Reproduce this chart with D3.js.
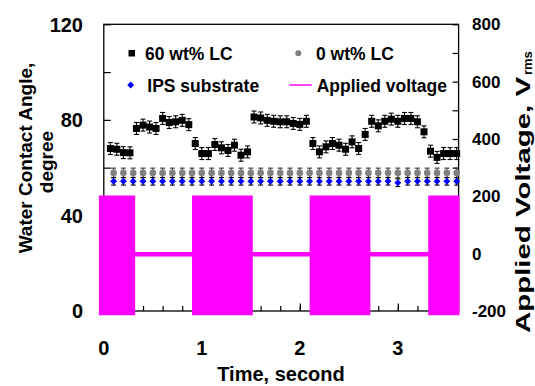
<!DOCTYPE html>
<html>
<head>
<meta charset="utf-8">
<script src="https://cdn.jsdelivr.net/npm/d3@7"></script>
<style>
  body { margin: 0; background: #fff; }
  text { font-family: "Liberation Sans", Arial, sans-serif; font-weight: bold; fill: #000; }
</style>
</head>
<body>
<svg id="chart" width="535" height="386"></svg>
<script>
// 60 wt% LC, sampled every 1/15 s
const lcTime = [0.067, 0.133, 0.2, 0.267, 0.333, 0.4, 0.467, 0.533, 0.6, 0.667,
  0.733, 0.8, 0.867, 0.933, 1.0, 1.067, 1.133, 1.2, 1.267, 1.333,
  1.4, 1.467, 1.533, 1.6, 1.667, 1.733, 1.8, 1.867, 1.933, 2.0,
  2.067, 2.133, 2.2, 2.267, 2.333, 2.4, 2.467, 2.533, 2.6, 2.667,
  2.733, 2.8, 2.867, 2.933, 3.0, 3.067, 3.133, 3.2, 3.267, 3.333,
  3.4, 3.467, 3.533, 3.6];
const lcAngle = [68.0, 67.7, 66.3, 66.2, 76.4, 77.8, 77.0, 76.4, 80.6, 78.9,
  79.2, 79.8, 78.0, 70.1, 65.9, 65.9, 69.7, 68.3, 67.2, 69.4,
  65.2, 66.6, 81.2, 80.8, 79.8, 79.4, 79.2, 79.2, 78.5, 78.1,
  79.4, 70.1, 66.6, 68.7, 70.1, 69.4, 67.7, 70.8, 68.0, 73.9,
  79.4, 77.5, 79.4, 80.3, 79.4, 80.6, 80.6, 79.2, 75.0, 66.9,
  64.3, 65.9, 65.9, 65.9];
const lcErr = 2.5;

// 0 wt% LC and bare IPS substrate, every 0.1 s
const refTime = [0.1, 0.2, 0.3, 0.4, 0.5, 0.6, 0.7, 0.8, 0.9, 1.0,
  1.1, 1.2, 1.3, 1.4, 1.5, 1.6, 1.7, 1.8, 1.9, 2.0,
  2.1, 2.2, 2.3, 2.4, 2.5, 2.6, 2.7, 2.8, 2.9, 3.0,
  3.1, 3.2, 3.3, 3.4, 3.5, 3.6];
const lc0Angle = [57.8, 57.8, 57.8, 57.8, 57.8, 57.8, 57.8, 57.8, 57.8, 57.8,
  57.8, 57.8, 57.8, 57.8, 57.8, 57.8, 57.8, 57.8, 57.8, 57.8,
  57.8, 57.8, 57.8, 57.8, 57.8, 57.8, 57.8, 57.8, 57.8, 57.8,
  57.8, 57.8, 57.8, 57.8, 57.8, 57.8];
const lc0Err = 2.0;
const ipsAngle = [54.3, 54.3, 54.3, 54.3, 54.3, 54.3, 54.3, 54.3, 54.3, 54.3,
  54.3, 54.3, 54.3, 54.3, 54.3, 54.3, 54.3, 54.3, 54.3, 54.3,
  54.3, 54.3, 54.3, 54.3, 54.3, 54.3, 54.3, 54.3, 54.3, 53.7,
  54.3, 54.3, 54.3, 54.3, 54.3, 54.3];
const ipsErr = 1.6;

// applied voltage envelope (AC on / off segments)
const voltEdge = [-0.05, 0.32, 0.90, 1.52, 2.10, 2.72, 3.31, 3.63];
const voltMax = [203, 6, 203, 6, 203, 6, 203];
const voltMin = [-215, -10, -215, -10, -215, -10, -215];

const leftTicks = [0, 40, 80, 120];
const rightTicks = [-200, 0, 200, 400, 600, 800];
const timeTicks = [0, 1, 2, 3];

const svg = d3.select('#chart');
const plotLeft = 103.8, plotRight = 458.6, plotTop = 24.3, plotBottom = 311;

const x = d3.scaleLinear().domain([0, 3.62]).range([plotLeft, plotRight]);
const yL = d3.scaleLinear().domain([0, 120]).range([plotBottom, plotTop]);
const yR = d3.scaleLinear().domain([-200, 800]).range([plotBottom, plotTop]);

// frame
svg.append('rect')
  .attr('x', plotLeft).attr('y', plotTop)
  .attr('width', plotRight - plotLeft).attr('height', plotBottom - plotTop)
  .attr('fill', 'none').attr('stroke', '#000').attr('stroke-width', 1.3);

// inward ticks
const axL = d3.axisRight(yL).tickValues(d3.range(0, 121, 20)).tickSize(7).tickFormat('');
svg.append('g').attr('transform', `translate(${plotLeft},0)`).call(axL);
const axR = d3.axisLeft(yR).tickValues(d3.range(-200, 801, 100)).tickSize(6).tickFormat('');
svg.append('g').attr('transform', `translate(${plotRight},0)`).call(axR);
const axBminor = d3.axisTop(x).tickValues(d3.range(0.2, 3.61, 0.2)).tickSize(5).tickFormat('');
svg.append('g').attr('transform', `translate(0,${plotBottom})`).call(axBminor);
const axBmajor = d3.axisTop(x).tickValues([1, 2, 3]).tickSize(7.5).tickFormat('');
svg.append('g').attr('transform', `translate(0,${plotBottom})`).call(axBmajor);
svg.selectAll('.domain').remove();
svg.selectAll('.tick line').attr('stroke', '#000').attr('stroke-width', 1.2);

// tick labels
svg.append('g').selectAll('text').data(leftTicks).join('text')
  .attr('x', 83).attr('y', (d) => yL(d)).attr('dy', '0.36em')
  .attr('text-anchor', 'end').attr('font-size', 20)
  .text((d) => d);
svg.append('g').selectAll('text').data(rightTicks).join('text')
  .attr('x', 472).attr('y', (d) => yR(d)).attr('dy', '0.36em')
  .attr('font-size', 17)
  .text((d) => d);
svg.append('g').selectAll('text').data(timeTicks).join('text')
  .attr('x', (d) => x(d)).attr('y', 355)
  .attr('text-anchor', 'middle').attr('font-size', 20)
  .text((d) => d);

// axis titles
svg.append('text')
  .attr('transform', 'translate(32,158) rotate(-90)')
  .attr('text-anchor', 'middle').attr('font-size', 19)
  .text('Water Contact Angle,');
svg.append('text')
  .attr('transform', 'translate(53,162) rotate(-90)')
  .attr('text-anchor', 'middle').attr('font-size', 19)
  .text('degree');
svg.append('text')
  .attr('transform', 'translate(530,333) rotate(-90)')
  .attr('font-size', 21)
  .attr('textLength', 256).attr('lengthAdjust', 'spacingAndGlyphs')
  .text('Applied Voltage, V');
svg.append('text')
  .attr('transform', 'translate(532,75) rotate(-90)')
  .attr('font-size', 13)
  .text('rms');
svg.append('text')
  .attr('x', 281).attr('y', 381)
  .attr('text-anchor', 'middle').attr('font-size', 20)
  .text('Time, second');

// voltage envelope
const voltPts = voltMax.map((v, i) => ({ t: voltEdge[i], hi: v, lo: voltMin[i] }));
voltPts.push({ t: voltEdge[voltEdge.length - 1], hi: voltMax[voltMax.length - 1], lo: voltMin[voltMin.length - 1] });
svg.append('path')
  .datum(voltPts)
  .attr('fill', '#ff00ff')
  .attr('d', d3.area()
    .curve(d3.curveStepAfter)
    .x((d) => x(d.t))
    .y0((d) => yR(d.lo))
    .y1((d) => yR(d.hi)));

// error bars
function errorBars(times, vals, err, color) {
  const g = svg.append('g').attr('stroke', color).attr('stroke-width', 1.1);
  times.forEach((t, i) => {
    const cx = x(t);
    const y0 = yL(vals[i] - err);
    const y1 = yL(vals[i] + err);
    g.append('line').attr('x1', cx).attr('x2', cx).attr('y1', y0).attr('y2', y1);
    g.append('line').attr('x1', cx - 2.5).attr('x2', cx + 2.5).attr('y1', y0).attr('y2', y0);
    g.append('line').attr('x1', cx - 2.5).attr('x2', cx + 2.5).attr('y1', y1).attr('y2', y1);
  });
}

errorBars(refTime, lc0Angle, lc0Err, '#333');
svg.append('g').selectAll('circle').data(refTime).join('circle')
  .attr('cx', (d) => x(d)).attr('cy', (d, i) => yL(lc0Angle[i]))
  .attr('r', 3.3).attr('fill', '#808080');

errorBars(refTime, ipsAngle, ipsErr, '#000');
const diamond = d3.symbol().type(d3.symbolDiamond2).size(30);
svg.append('g').selectAll('path').data(refTime).join('path')
  .attr('transform', (d, i) => `translate(${x(d)},${yL(ipsAngle[i])})`)
  .attr('d', diamond).attr('fill', '#0000ff');

errorBars(lcTime, lcAngle, lcErr, '#000');
svg.append('g').selectAll('rect').data(lcTime).join('rect')
  .attr('x', (d) => x(d) - 3.5).attr('y', (d, i) => yL(lcAngle[i]) - 3.5)
  .attr('width', 7).attr('height', 7).attr('fill', '#000');

// legend
const lg = svg.append('g');
lg.append('rect').attr('x', 128.5).attr('y', 50).attr('width', 6.5).attr('height', 6.5).attr('fill', '#000');
lg.append('text').attr('x', 145).attr('y', 59.5).attr('font-size', 17.5).text('60 wt% LC');
lg.append('circle').attr('cx', 298.3).attr('cy', 53.3).attr('r', 3).attr('fill', '#808080');
lg.append('text').attr('x', 316).attr('y', 59.5).attr('font-size', 17.5).text('0 wt% LC');
lg.append('path').attr('transform', 'translate(130.7,85)').attr('d', diamond).attr('fill', '#0000ff');
lg.append('text').attr('x', 147.3).attr('y', 91.5).attr('font-size', 17.5).text('IPS substrate');
lg.append('line').attr('x1', 289.3).attr('x2', 311.7).attr('y1', 85).attr('y2', 85)
  .attr('stroke', '#ff00ff').attr('stroke-width', 1.5);
lg.append('text').attr('x', 316.7).attr('y', 91.5).attr('font-size', 17.5).text('Applied voltage');
</script>
</body>
</html>
